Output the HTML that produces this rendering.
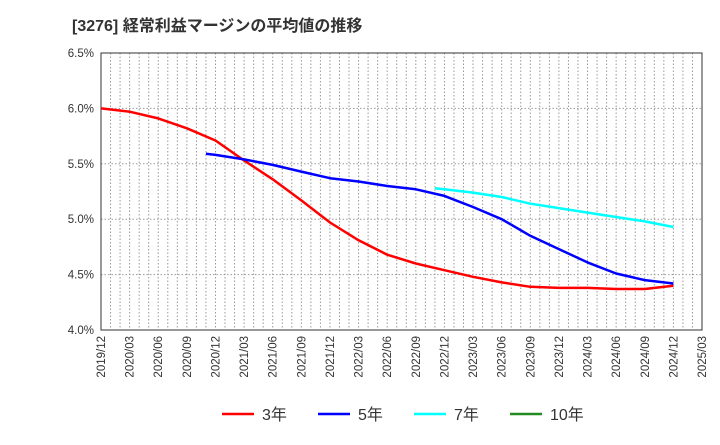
<!DOCTYPE html>
<html><head><meta charset="utf-8"><style>
body{margin:0;background:#fff;font-family:"Liberation Sans","Noto Sans CJK JP",sans-serif;}
svg text{font-family:"Liberation Sans","Noto Sans CJK JP",sans-serif;}
</style></head><body>
<svg id="chart" width="720" height="440">
<text x="72" y="31" font-size="16" font-weight="bold" fill="#333">[3276]  経常利益マージンの平均値の推移</text>
<g id="grid"></g><g id="axes"></g><g id="series"></g><g id="legend"></g>
</svg>
<script>
const xTickLabels=["2019/12","2020/03","2020/06","2020/09","2020/12","2021/03","2021/06","2021/09","2021/12","2022/03","2022/06","2022/09","2022/12","2023/03","2023/06","2023/09","2023/12","2024/03","2024/06","2024/09","2024/12","2025/03"];
const yTicks=[4.0,4.5,5.0,5.5,6.0,6.5];
// month index from 2019/12
const months3=[0,3,6,9,12,15,18,21,24,27,30,33,36,39,42,45,48,51,54,57,60];
const vals3=[6.00,5.97,5.91,5.82,5.71,5.53,5.36,5.17,4.97,4.81,4.68,4.60,4.54,4.48,4.43,4.39,4.38,4.38,4.37,4.37,4.40];
const months5=[11,12,15,18,21,24,27,30,33,36,39,42,45,48,51,54,57,60];
const vals5=[5.59,5.58,5.54,5.49,5.43,5.37,5.34,5.30,5.27,5.21,5.11,5.00,4.85,4.73,4.61,4.51,4.45,4.42];
const months7=[35,36,39,42,45,48,51,54,57,60];
const vals7=[5.28,5.27,5.24,5.20,5.14,5.10,5.06,5.02,4.98,4.93];
const NS="http://www.w3.org/2000/svg";
const L=101,R=702,T=53,B=330;
const x=m=>L+(R-L)*m/63;
const y=v=>B-(v-4.0)/2.5*(B-T);
function mk(t,a,p){const e=document.createElementNS(NS,t);for(const k in a)e.setAttribute(k,a[k]);p.appendChild(e);return e;}
const grid=document.getElementById('grid'),axes=document.getElementById('axes'),ser=document.getElementById('series'),leg=document.getElementById('legend');
for(let m=1;m<63;m++){const l=mk('line',{x1:x(m),x2:x(m),y1:T,y2:B,stroke:'#999','stroke-dasharray':'1.5,2','stroke-width':1},grid);

}
yTicks.forEach(v=>{const l=mk('line',{x1:L,x2:R,y1:y(v),y2:y(v),stroke:'#999','stroke-dasharray':'1.5,2','stroke-width':1},grid);


const t=mk('text',{x:L-7,y:y(v)+4,'text-anchor':'end','font-size':11.5,fill:'#333'},axes);t.textContent=v.toFixed(1)+'%';

});
const fr=mk('rect',{x:L,y:T,width:R-L,height:B-T,fill:'none',stroke:'#333','stroke-width':1},axes);


xTickLabels.forEach((s,i)=>{const xx=x(i*3);const t=mk('text',{x:0,y:0,'text-anchor':'end','font-size':11.5,fill:'#333',transform:`translate(${xx+4},${B+6}) rotate(-90)`},axes);t.textContent=s;

});
function line(ms,vs,c,name){const d=ms.map((m,i)=>(i?'L':'M')+x(m).toFixed(1)+','+y(vs[i]).toFixed(1)).join('');
const p=mk('path',{d:d,fill:'none',stroke:c,'stroke-width':2.5,'stroke-linejoin':'round'},ser);

}
line(months3,vals3,'#ff0000','series-3yr');
line(months5,vals5,'#0000ff','series-5yr');
line(months7,vals7,'#00ffff','series-7yr');
const legItems=[['3年','#ff0000',222],['5年','#0000ff',318],['7年','#00ffff',414],['10年','#228b22',510]];
legItems.forEach(([s,c,lx])=>{const g=mk('g',{},leg);


mk('line',{x1:lx,x2:lx+32,y1:414,y2:414,stroke:c,'stroke-width':2.5},g);
const t=mk('text',{x:lx+40,y:420,'font-size':16,fill:'#333'},g);t.textContent=s;});
</script>
</body></html>
